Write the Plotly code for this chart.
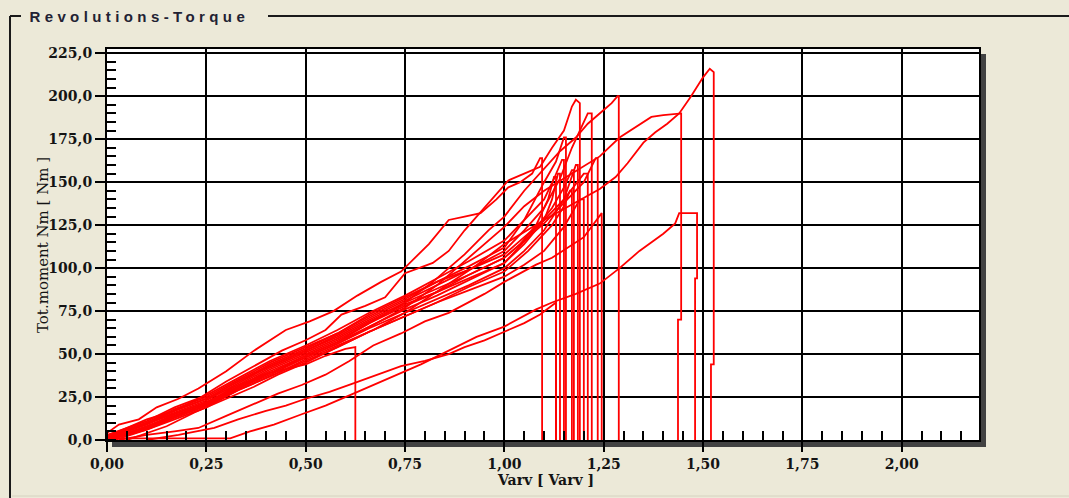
import plotly.graph_objects as go

# ---------------- data ----------------
title_text = "Revolutions-Torque"
x_title = "Varv [ Varv ]"
y_title = "Tot.moment Nm [ Nm ]"

x_ticks = [0.0, 0.25, 0.5, 0.75, 1.0, 1.25, 1.5, 1.75, 2.0]
y_ticks = [0, 25, 50, 75, 100, 125, 150, 175, 200, 225]

# upper outliers
curve_a_x = [0, 0.03, 0.08, 0.125, 0.18, 0.23, 0.30, 0.37, 0.45, 0.51, 0.57, 0.63, 0.69, 0.74, 0.81, 0.86, 0.90, 0.94, 0.98, 1.01, 1.04, 1.07, 1.09, 1.095, 1.095]
curve_a_y = [4, 9, 12, 19, 24, 30, 40, 52, 64, 69, 75, 84, 92, 98, 114, 128, 130, 132, 140, 147, 150, 155, 164, 164, 0]

curve_b_x = [0, 0.05, 0.10, 0.17, 0.23, 0.30, 0.385, 0.44, 0.50, 0.55, 0.59, 0.65, 0.70, 0.75, 0.82, 0.86, 0.90, 0.95, 1.01, 1.05, 1.09, 1.12, 1.15, 1.17, 1.18, 1.19, 1.19]
curve_b_y = [2, 7, 12, 17, 24, 34, 45, 52, 58, 64, 73, 78, 83, 97, 103, 110, 122, 135, 151, 155, 159, 170, 180, 194, 198, 196, 0]

curve_c_x = [0, 0.06, 0.13, 0.25, 0.33, 0.42, 0.50, 0.58, 0.66, 0.75, 0.82, 0.90, 0.96, 1.00, 1.05, 1.10, 1.14, 1.18, 1.21, 1.25, 1.27, 1.285, 1.288, 1.288]
curve_c_y = [2, 6, 12, 22, 31, 40, 49, 57, 68, 80, 92, 108, 122, 130, 145, 158, 168, 176, 184, 192, 196, 200, 200, 0]

curve_d_x = [0, 0.08, 0.17, 0.25, 0.33, 0.42, 0.50, 0.58, 0.67, 0.75, 0.83, 0.92, 1.00, 1.05, 1.10, 1.17, 1.24, 1.29, 1.33, 1.37, 1.40, 1.44, 1.445, 1.445, 1.437, 1.437]
curve_d_y = [0, 6, 14, 21, 30, 39, 48, 56, 67, 77, 90, 108, 124, 136, 145, 155, 165, 176, 182, 188, 189, 190, 190, 70, 70, 0]

curve_e_x = [0, 0.08, 0.17, 0.25, 0.33, 0.42, 0.50, 0.58, 0.67, 0.75, 0.83, 0.92, 1.00, 1.05, 1.10, 1.17, 1.24, 1.28, 1.31, 1.35, 1.38, 1.41, 1.44, 1.47, 1.50, 1.517, 1.527, 1.527, 1.52, 1.52]
curve_e_y = [0, 5, 13, 20, 29, 38, 47, 55, 64, 74, 86, 100, 114, 121, 128, 137, 146, 153, 161, 173, 179, 184, 190, 200, 211, 216, 214, 44, 44, 0]

# lower outliers
curve_f_x = [0.0, 0.20, 0.31, 0.36, 0.42, 0.49, 0.55, 0.61, 0.66, 0.72, 0.79, 0.86, 0.93, 1.00, 1.04, 1.08, 1.12, 1.18, 1.24, 1.29, 1.34, 1.38, 1.40, 1.43, 1.44, 1.485, 1.485, 1.48, 1.48]
curve_f_y = [1, 1, 1, 5, 9, 15, 20, 26, 31, 37, 44, 52, 60, 66, 71, 76, 80, 85, 91, 100, 110, 117, 120, 126, 132, 132, 94, 94, 0]

curve_g_x = [0.03, 0.10, 0.17, 0.23, 0.30, 0.37, 0.43, 0.49, 0.55, 0.61, 0.67, 0.74, 0.80, 0.86, 0.90, 0.95, 1.00, 1.04, 1.08, 1.12, 1.16, 1.20, 1.245, 1.245]
curve_g_y = [0, 3, 5, 7, 14, 21, 27, 32, 38, 46, 55, 62, 69, 74, 79, 85, 92, 97, 102, 106, 112, 118, 132, 0]

curve_h_x = [0.10, 0.18, 0.27, 0.33, 0.40, 0.45, 0.50, 0.56, 0.62, 0.68, 0.74, 0.80, 0.86, 0.90, 0.95, 1.00, 1.05, 1.09, 1.13, 1.13]
curve_h_y = [0, 3, 7, 12, 17, 20, 24, 28, 33, 38, 43, 46, 50, 54, 58, 63, 68, 73, 80, 0]

# main bundle
curve_i_x = [0, 0.05, 0.10, 0.17, 0.25, 0.33, 0.41, 0.50, 0.58, 0.66, 0.75, 0.83, 0.91, 1.00, 1.04, 1.08, 1.11, 1.125, 1.13, 1.13]
curve_i_y = [2, 6, 10, 17, 24, 34, 43, 52, 60, 70, 80, 88, 96, 106, 114, 125, 140, 153, 153, 0]

curve_j_x = [0, 0.05, 0.10, 0.17, 0.25, 0.33, 0.41, 0.50, 0.58, 0.66, 0.75, 0.83, 0.91, 1.00, 1.05, 1.10, 1.12, 1.135, 1.14, 1.14]
curve_j_y = [0, 3, 7, 14, 21, 31, 40, 49, 57, 66, 76, 84, 93, 103, 114, 128, 140, 155, 155, 0]

curve_k_x = [0, 0.05, 0.10, 0.17, 0.25, 0.33, 0.41, 0.50, 0.58, 0.66, 0.75, 0.83, 0.91, 1.00, 1.05, 1.10, 1.125, 1.145, 1.15, 1.15]
curve_k_y = [3, 7, 11, 19, 26, 36, 46, 55, 64, 74, 84, 94, 104, 116, 128, 140, 152, 163, 163, 0]

curve_l_x = [0, 0.05, 0.10, 0.17, 0.25, 0.33, 0.41, 0.50, 0.58, 0.66, 0.75, 0.83, 0.91, 1.00, 1.05, 1.10, 1.13, 1.15, 1.155, 1.155]
curve_l_y = [2, 6, 10, 18, 25, 35, 45, 54, 62, 72, 82, 92, 101, 112, 128, 150, 162, 176, 176, 0]

curve_m_x = [0.02, 0.06, 0.10, 0.17, 0.25, 0.33, 0.41, 0.50, 0.58, 0.66, 0.75, 0.83, 0.91, 1.00, 1.06, 1.12, 1.15, 1.165, 1.17, 1.17]
curve_m_y = [0, 3, 6, 12, 19, 29, 37, 46, 54, 63, 72, 80, 89, 98, 110, 125, 136, 145, 145, 0]

curve_n_x = [0, 0.05, 0.10, 0.17, 0.25, 0.33, 0.41, 0.50, 0.58, 0.66, 0.75, 0.83, 0.91, 1.00, 1.06, 1.12, 1.15, 1.17, 1.175, 1.175]
curve_n_y = [1, 4, 8, 15, 22, 32, 42, 51, 59, 69, 79, 86, 94, 103, 118, 135, 147, 157, 157, 0]

curve_o_x = [0, 0.05, 0.10, 0.17, 0.25, 0.33, 0.41, 0.50, 0.58, 0.66, 0.75, 0.83, 0.91, 1.00, 1.05, 1.10, 1.14, 1.17, 1.19, 1.21, 1.22, 1.22]
curve_o_y = [2, 5, 9, 16, 23, 33, 43, 52, 61, 71, 81, 90, 99, 110, 122, 135, 152, 170, 180, 190, 190, 0]

curve_p_x = [0.05, 0.10, 0.15, 0.22, 0.30, 0.37, 0.43, 0.50, 0.58, 0.66, 0.75, 0.83, 0.91, 1.00, 1.05, 1.10, 1.15, 1.19, 1.20, 1.20]
curve_p_y = [0, 4, 8, 16, 24, 31, 38, 45, 54, 63, 72, 80, 87, 95, 102, 110, 124, 140, 140, 0]

curve_q_x = [0, 0.05, 0.10, 0.17, 0.25, 0.33, 0.41, 0.50, 0.58, 0.66, 0.75, 0.83, 0.91, 1.00, 1.05, 1.10, 1.15, 1.20, 1.23, 1.235, 1.235]
curve_q_y = [1, 4, 8, 14, 21, 31, 41, 50, 58, 68, 78, 86, 96, 106, 116, 126, 138, 150, 164, 164, 0]

curve_r_x = [0, 0.05, 0.10, 0.17, 0.25, 0.33, 0.41, 0.50, 0.58, 0.66, 0.75, 0.83, 0.91, 1.00, 1.05, 1.10, 1.15, 1.20, 1.21, 1.21]
curve_r_y = [2, 6, 10, 17, 24, 34, 44, 53, 62, 73, 83, 92, 99, 108, 118, 128, 140, 155, 155, 0]

curve_s_x = [0, 0.05, 0.10, 0.17, 0.25, 0.33, 0.41, 0.50, 0.58, 0.66, 0.75, 0.83, 0.91, 1.00, 1.05, 1.10, 1.15, 1.18, 1.185, 1.185]
curve_s_y = [0, 3, 6, 13, 20, 30, 39, 48, 56, 65, 74, 82, 90, 100, 110, 122, 140, 160, 160, 0]

curve_t_x = [0, 0.05, 0.10, 0.17, 0.25, 0.33, 0.41, 0.50, 0.55, 0.60, 0.62, 0.625, 0.625]
curve_t_y = [1, 5, 9, 17, 24, 32, 39, 44, 49, 53, 54, 54, 0]

curves = [
    (curve_a_x, curve_a_y), (curve_b_x, curve_b_y), (curve_c_x, curve_c_y),
    (curve_d_x, curve_d_y), (curve_e_x, curve_e_y), (curve_f_x, curve_f_y),
    (curve_g_x, curve_g_y), (curve_h_x, curve_h_y), (curve_i_x, curve_i_y),
    (curve_j_x, curve_j_y), (curve_k_x, curve_k_y), (curve_l_x, curve_l_y),
    (curve_m_x, curve_m_y), (curve_n_x, curve_n_y), (curve_o_x, curve_o_y),
    (curve_p_x, curve_p_y), (curve_q_x, curve_q_y), (curve_r_x, curve_r_y),
    (curve_s_x, curve_s_y), (curve_t_x, curve_t_y),
]

# ---------------- figure ----------------
W, H = 1069, 498
L, R, T, B = 107, 90, 49, 58
PW, PH = W - L - R, H - T - B
BG = "#ECE9D8"
TXT = "#141414"
SERIF = "DejaVu Serif, serif"

def px(xp):
    return (xp - L) / PW

def py(yp):
    return (H - B - yp) / PH

fig = go.Figure()
for cx, cy in curves:
    fig.add_trace(go.Scatter(x=cx, y=cy, mode="lines",
                             line=dict(color="#ff0000", width=1.8),
                             showlegend=False, hoverinfo="skip"))

axis_common = dict(
    showline=True, linecolor="black", linewidth=2, mirror=True,
    showgrid=True, gridcolor="black", gridwidth=2,
    ticks="outside", ticklen=10, tickwidth=2, tickcolor="black",
    zeroline=False,
    tickfont=dict(family=SERIF, size=14, color=TXT, weight="bold"),
)

fig.update_xaxes(range=[0, PW / 397.35], tickvals=x_ticks, tickformat=".2f",
                 minor=dict(ticks="inside", ticklen=9, tickwidth=1.5,
                            tickcolor="black", dtick=0.05, showgrid=False),
                 **axis_common)
fig.update_yaxes(range=[0, PH / 1.7188], tickvals=y_ticks, tickformat=".1f",
                 minor=dict(ticks="inside", ticklen=9, tickwidth=1.5,
                            tickcolor="black", dtick=5, showgrid=False),
                 **axis_common)

shapes = [
    # 3-D shadow of the plot box
    dict(type="rect", xref="paper", yref="paper", layer="below",
         x0=px(112), x1=px(986), y0=py(447), y1=py(441),
         fillcolor="#424242", line=dict(width=0)),
    dict(type="rect", xref="paper", yref="paper", layer="below",
         x0=px(980), x1=px(986), y0=py(447), y1=py(54),
         fillcolor="#424242", line=dict(width=0)),
    # group box frame
    dict(type="line", xref="paper", yref="paper",
         x0=px(10), x1=px(10), y0=py(16), y1=py(500),
         line=dict(color="#1a1a1a", width=2)),
    dict(type="line", xref="paper", yref="paper",
         x0=px(10), x1=px(21), y0=py(16), y1=py(16),
         line=dict(color="#1a1a1a", width=2)),
    dict(type="line", xref="paper", yref="paper",
         x0=px(268), x1=px(1075), y0=py(16), y1=py(16),
         line=dict(color="#1a1a1a", width=2)),
    dict(type="line", xref="paper", yref="paper",
         x0=px(12), x1=px(1075), y0=py(496), y1=py(496),
         line=dict(color="#d6d2c0", width=1)),
]

annotations = [
    dict(text=title_text, xref="paper", yref="paper", x=px(139), y=py(16),
         xanchor="center", yanchor="middle", showarrow=False,
         font=dict(family="Liberation Sans, Arial, sans-serif", size=15,
                   color="#222233", weight="bold")),
    dict(text=x_title, xref="paper", yref="paper", x=px(545), y=py(480),
         xanchor="center", yanchor="middle", showarrow=False,
         font=dict(family=SERIF, size=14, color=TXT, weight="bold")),
    dict(text=y_title, xref="paper", yref="paper", x=px(43), y=py(245),
         xanchor="center", yanchor="middle", showarrow=False, textangle=-90,
         font=dict(family=SERIF, size=15, color=TXT)),
]

fig.update_layout(
    width=W, height=H,
    margin=dict(l=L, r=R, t=T, b=B, pad=0),
    paper_bgcolor=BG, plot_bgcolor="white",
    separators=", ",
    shapes=shapes, annotations=annotations,
    showlegend=False,
)

post = """
document.querySelectorAll('.annotation-text').forEach(function(e){
  if (e.textContent.indexOf('Revolutions') === 0) { e.style.letterSpacing = '4.4px'; }
});
"""
fig.write_html("out.html", post_script=post)
